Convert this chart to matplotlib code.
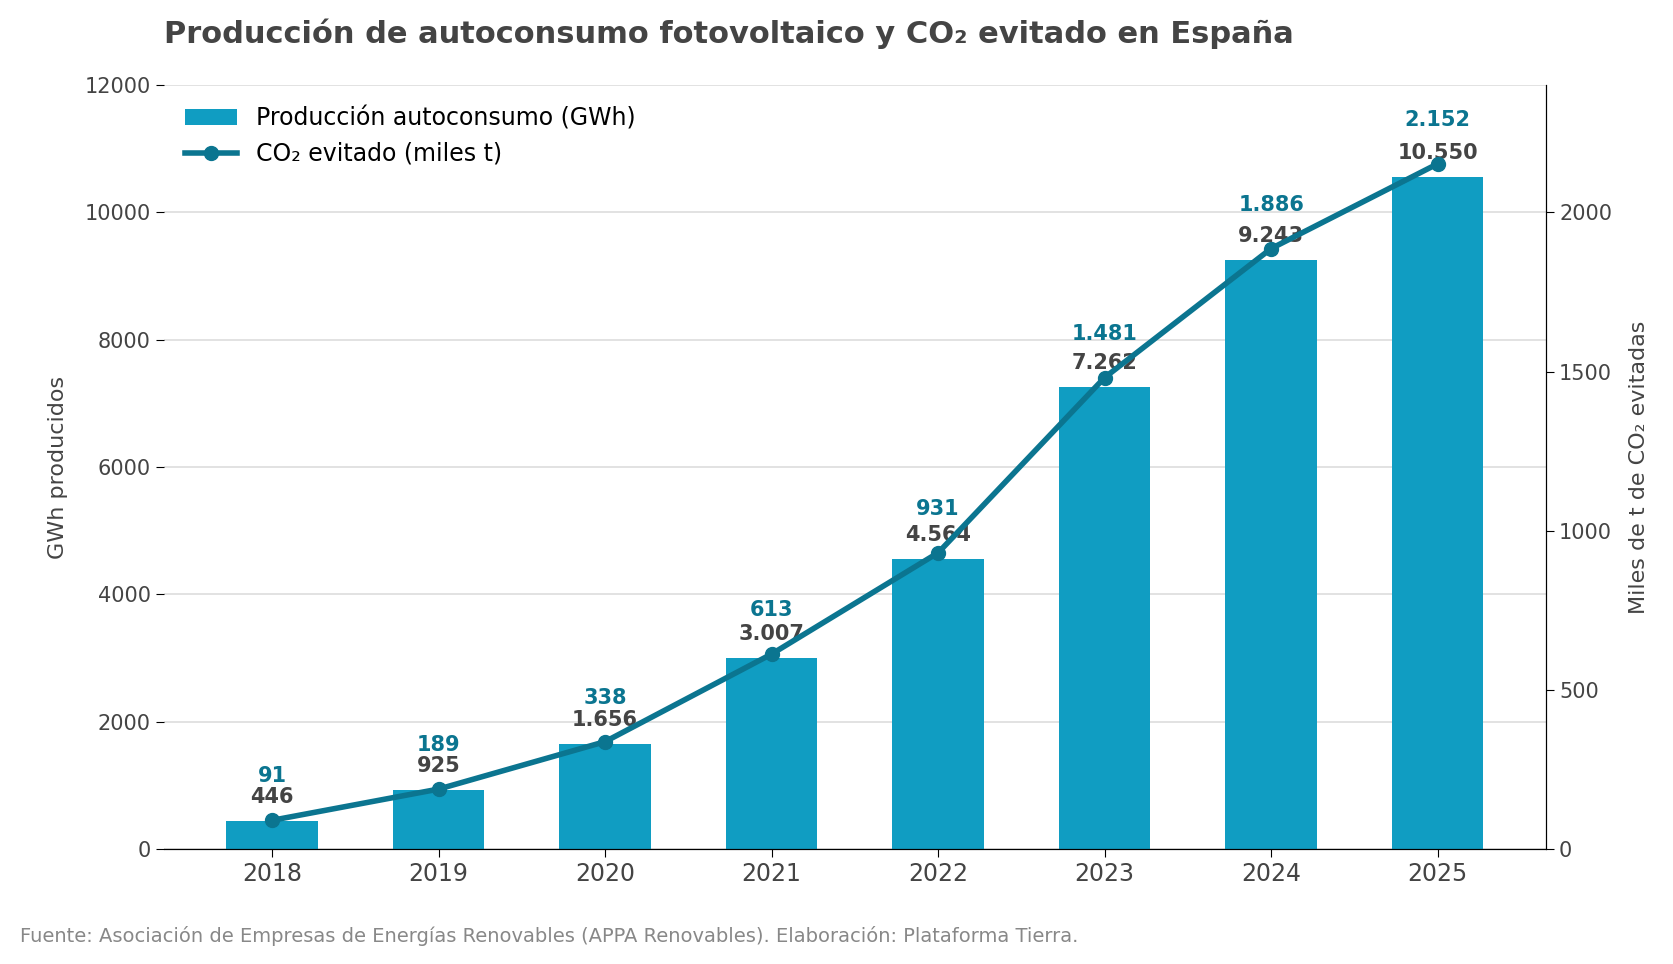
import matplotlib
matplotlib.use("Agg")
import matplotlib.pyplot as plt

years = ["2018","2019","2020","2021","2022","2023","2024","2025"]
gwh = [446, 925, 1656, 3007, 4564, 7262, 9243, 10550]
co2 = [91, 189, 338, 613, 931, 1481, 1886, 2152]
gwh_lbl = ["446","925","1.656","3.007","4.564","7.262","9.243","10.550"]
co2_lbl = ["91","189","338","613","931","1.481","1.886","2.152"]

bar_c = "#109dc2"; line_c = "#0b7590"; txt = "#444444"
fig = plt.figure(figsize=(16.73, 9.64), dpi=100)
ax = fig.add_axes([0.098, 0.119, 0.826, 0.793])
ax2 = ax.twinx()
x = list(range(len(years)))
b = ax.bar(x, gwh, width=0.55, color=bar_c, label="Producción autoconsumo (GWh)", zorder=2)
l, = ax2.plot(x, co2, color=line_c, lw=4, marker="o", ms=10, label="CO₂ evitado (miles t)", zorder=3)
ax.set_ylim(0, 12000); ax2.set_ylim(0, 2400)
ax.set_xlim(-0.65, 7.65)
ax.set_yticks(range(0, 12001, 2000)); ax2.set_yticks(range(0, 2001, 500))
ax.grid(axis="y", color="#dddddd", lw=1.2, zorder=0)
ax.set_axisbelow(True)
ax.set_xticks(x); ax.set_xticklabels(years)
ax.tick_params(axis="x", labelsize=17, colors=txt, length=6)
ax.tick_params(axis="x", colors="black", labelcolor=txt)
ax.tick_params(axis="y", labelsize=15, labelcolor=txt, length=6)
ax2.tick_params(axis="y", labelsize=15, labelcolor=txt, length=6)
for s in ["top", "left"]:
    ax.spines[s].set_visible(False); ax2.spines[s].set_visible(False)
ax.set_ylabel("GWh producidos", fontsize=16, color=txt, labelpad=12)
ax2.set_ylabel("Miles de t de CO₂ evitadas", fontsize=16, color=txt, labelpad=12)
for i in x:
    ax.annotate(gwh_lbl[i], (i, gwh[i]), xytext=(0, 24), textcoords="offset pixels",
                ha="center", va="center", fontsize=15, fontweight="bold", color=txt, zorder=5)
    ax2.annotate(co2_lbl[i], (i, co2[i]), xytext=(0, 44), textcoords="offset pixels",
                 ha="center", va="center", fontsize=15, fontweight="bold", color=line_c, zorder=5)
ax.legend([b, l], [b.get_label(), l.get_label()], loc="upper left", frameon=False, fontsize=17,
          bbox_to_anchor=(0.0, 1.0), handlelength=2.2)
fig.text(0.098, 0.965, "Producción de autoconsumo fotovoltaico y CO₂ evitado en España",
         fontsize=22, fontweight="bold", color=txt, va="center")
fig.text(0.012, 0.029, "Fuente: Asociación de Empresas de Energías Renovables (APPA Renovables). Elaboración: Plataforma Tierra.",
         fontsize=14, color="#888888", va="center")
fig.savefig("out.png", dpi=100)
